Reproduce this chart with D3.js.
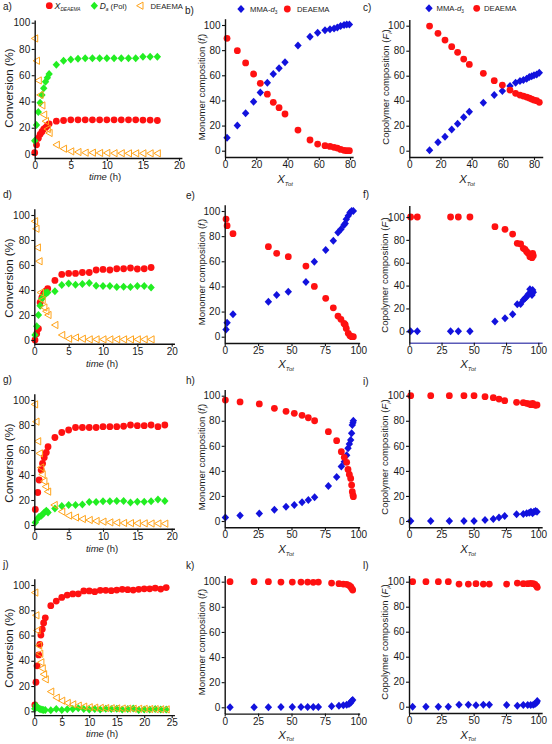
<!DOCTYPE html>
<html><head><meta charset="utf-8">
<script src="https://cdn.jsdelivr.net/npm/d3@7"></script>
<style>body{margin:0;background:#fff} text{font-family:Arial,"Liberation Sans",sans-serif;fill:#1a1a1a}</style>
</head><body><svg id="c" width="552" height="744"></svg>
<script>
// ---------- DATA ----------
// panel a
const aTime = [0,0.25,0.5,0.75,1,1.25,1.5,1.75,2,3,4,5,6,7,8,9,10,11,12,13,14,15,16,17];
const aXDEAEMA = [1,7,12,15,17,19,20,21.5,23,25,25.5,26,26,26,26,26,26,26,26,26,26,25.8,25.8,25.5];
const aDa = [10,22,32,39,45,50,55,58,61,68,71,72,72.5,73,73,73,73,73,73,73,73,74,74,74];
const aMono = [88,71,56,45,37,30,25,19,16,7,4,2,1.5,1,1,0.8,0.8,0.6,0.6,0.5,0.5,0.5,0.5,0.5];
// panel b
const bX = [1.3,7.9,13.2,18.3,22.6,27.1,30.9,34.6,38.4,46.7,54.4,59.3,64,67.2,69.8,71.9,74,76.2,77.9,79.6];
const bMMA = [10.3,20,29.7,39,46.4,54,61,65.5,70.3,83.6,90.7,93.9,95.8,96.6,97.3,98.1,99.2,100,100.3,100.3];
const bDEA = [89.4,79.6,69.8,61,53.6,45,38.5,34.2,29.2,16.4,8.5,5.3,4,3.4,2.7,2.1,1,0.3,0,0];
// panel c
const cX = [13,18.4,22.9,27.2,31,34.9,38.5,47.5,54.5,59.7,64.6,68.2,71,73.2,75.3,77,78.5,80,81.7,83.4];
const cDEA = [99.7,93.9,88.5,83.2,78.7,73.3,69,61.9,56,52.5,48.5,45.9,44.5,43.7,42.9,42.1,41.3,40.5,40,38.7];
const cMMA = [0.3,6.7,11.2,17,21.6,26.7,31.2,38.4,44.5,47.7,51.7,54.4,55.7,56.5,57.6,58.9,59.5,60.3,61,62.4];
// panel d
const dTime = [0.1,0.35,0.6,0.85,1.1,1.35,1.65,1.95,3,4,5,6,7,8,9,10,11,12,13,14,15,16,17];
const dXDEAEMA = [0,5,9,30,34,37,39,41,47.7,52.5,53.3,53.3,54,54,56,56.5,56,57,57,57.6,56.8,57,58];
const dDa = [4,11,20,27.5,33,35,38,38,39,44,45.3,44.3,44.8,45.6,43.5,43.2,43.2,42.4,42.7,42.4,43.2,43.2,42];
const dTimeM = [0.05,0.25,0.45,0.7,0.9,1.15,1.4,1.7,2,3,4,5,6,7,8,9,10,11,12,13,14,15,16,17];
const dMono = [95,89,74,63,38,32,26,23,20,12,4,1,2,1,0.5,0.5,0.5,0.5,0.5,0.5,0.5,0.5,0.5,0.5];
// panel e
const eX = [1,1.8,6.2,32.7,38.9,47.6,60.8,67.1,75.6,81.3,84.8,87,89.3,90.2,91,92.5,93.8,95,96.3];
const eDEA = [93.6,88.3,82,71.6,66.3,63.7,56.2,40,30.5,23,16.4,13.8,10.6,9.5,6.6,2.7,0.8,0,0];
const eMMA = [5.8,11.1,17.8,27.9,33.2,35.8,43.5,59.7,69,76.4,82.8,85.4,88.9,90,93.4,96.3,98.9,100,100];
// panel f
const fX = [1,6.2,32,38,47,66.4,74.2,80.1,83.7,86.3,88.4,89.7,91,92.2,93.5,94.3,95.1,95.6,96.1];
const fDEA = [100,100,100,100,100,91.5,89.2,85.1,77,76.4,72.6,71.7,69.7,68.2,65.3,66.8,64.4,68.2,66.2];
const fMMA = [0,0,0,0,0,8.5,11.4,14.9,23.6,23.9,27.4,28.9,30.3,32.4,36.7,33.2,31.8,36.2,34.1];
// panel g
const gTime = [0.15,0.5,0.7,1,1.2,1.45,1.75,2,3,4,5,6,7,8,9,10,11,12,13,14,15,16,17,18,19];
const gXDEAEMA = [12.5,26,36,44,49.3,54,58,62.7,70,74,76,78,78,78,78,78.7,78.7,78.7,79,80,79.5,79.5,80,78.7,80];
const gDa = [2,5.3,6.7,7.5,8.5,10,11.5,10,13.3,15.2,16,16,16.5,18.4,18.4,19,19,19.2,19.2,18,18.7,18.7,19,20.5,19.2];
const gTimeM = [0.05,0.25,0.5,0.75,0.95,1.15,1.4,1.65,1.95,2.9,4,5,6,7,8,9,10,11,12,13,14,15,16,17,18,19];
const gMono = [96.5,82.7,67,57.3,46,40.5,35,30.7,26.7,16,10.7,7.5,6,4.8,4,3.2,2.7,2.1,1.9,1.6,1.5,1.4,1.3,1.2,1.2,1.1];
// panel h
const hX = [0.5,11.5,25.9,37.2,45.9,52.1,57.9,62.6,67.3,77.6,83.8,87.3,89.5,91.3,92.3,93.3,94.3,95,95.5,96,96.3];
const hDEA = [96.5,95,93.4,89.9,87.5,85.9,84.3,82.4,80,71.3,64.1,55.3,50.8,46.8,41.2,37.2,34,28.7,23.4,20.7,19.4];
const hMMA = [2.7,4.3,5.9,9,11.4,12.8,14.9,16.8,18.9,27.9,35.1,43.4,47.3,52.4,58,61.4,64.6,70,76.6,78.5,80];
// panel i
const iX = [1.3,16.8,31.2,42.5,50.3,58.8,65.2,69.6,74,83.2,88.4,91,93,94.3,95.6,96.6,97.9,99];
const iDEA = [100,100,100,100,100,99.2,98.4,97.3,96,94.7,94.4,93.9,93.4,92.8,93.9,92.8,92.3,92.6];
const iMMA = [0,0,0,0,0,0.8,1.6,2.7,4,5.3,5.6,6.1,6.6,7.4,6.1,7.4,8,7.4];
// panel j
const jTime = [0.1,0.3,0.5,0.8,1,1.2,1.45,1.7,2,3,4,5,6,7,8,9,10,11,12,13,14,15,16,17,18,19,20,21,22,23,24];
const jXDEAEMA = [5,23,36,44.6,53,60.4,65,70,74,83.6,87.3,90.2,92,92.9,93,95.3,95.3,94.7,95.8,95.8,95.5,96,96.6,96.3,96,96.6,97,97,97.6,96.8,98];
const jDa = [2,4.5,3,2.4,1.8,1.6,1.2,1,1,0.8,1.8,1,1.6,1.8,2.4,1.8,1.5,1.8,1.5,2,1.8,2,1.5,1.8,2.2,1,1.5,1.5,1.8,1.5,1.5];
const jMono = [94,76,64,52,45.6,38.8,34,29.3,25.3,15.6,10.8,8.4,6.6,5.5,4.5,3.7,3.2,2.9,2.7,2.5,2.4,2.3,2.2,2.1,2,2,1.9,1.8,1.7,1.6,1.5];
// panel k
const kX = [4,22,32.7,42.1,50.6,57.1,62.1,66.3,70.1,80,85.5,88.8,91.3,93,94.3,95,95.8];
const kDEA = [100,100,100,99.7,99.7,99.7,99.7,99.5,99.7,98.9,98.4,98.1,97.9,97.1,96,94.7,93.4];
const kMMA = [0,0,0,0.3,0.3,0.3,0.3,0.3,0.3,0.8,1.3,1.6,2.1,2.7,3.7,5,5.8];
// panel l
const lX = [2.8,13.1,22.7,30.4,38.7,45.9,51.8,57.5,62.1,75.5,83.8,88.4,91.8,94.1,96.1,97.4,98.7,99.2];
const lDEA = [100,100,100,100,98.1,98.1,98.4,98.1,98.1,98.1,98.9,98.4,98.4,98.7,98.4,97.9,96.5,95.5];
const lMMA = [0,0,0,0,1.6,1.6,1.1,1.6,1.6,1.3,0.8,1.3,1.3,1.3,1.6,2.1,3.2,4.5];
// ticks
const timeTicks20 = [0,5,10,15,20];
const timeTicks25 = [0,5,10,15,20,25];
const xTot80 = [0,20,40,60,80];
const xTot100 = [0,25,50,75,100];
const yTicks = [0,20,40,60,80,100];

// ---------- STYLE ----------
const RED = '#ff1111', GREEN = '#22ee22', BLUE = '#1212dd', ORANGE = '#ffa31a';

const svg = d3.select('#c');

function rich(sel, parts, fs){
  let shifted = 0;
  parts.forEach(p => {
    const ts = sel.append('tspan').text(p.t);
    if (p.it) ts.attr('font-style','italic');
    if (p.big) ts.attr('font-size', fs*p.big);
    if (p.sub) { ts.attr('font-size', fs*0.62).attr('dy', fs*0.3 - shifted); shifted = fs*0.3; }
    else if (shifted) { ts.attr('dy', -shifted); shifted = 0; }
  });
}
function marker(g, type, color){
  if (type === 'circle') return g.append('circle').attr('r',3.4).attr('fill',color);
  if (type === 'diamond') return g.append('path').attr('d','M0,-4L3.7,0L0,4L-3.7,0Z').attr('fill',color);
  return g.append('path').attr('d','M-3.4,0L3,-3.6L3,3.6Z').attr('fill','none').attr('stroke',color).attr('stroke-width',1);
}

const T_CONV = [{t:'Conversion (%)'}];
const T_MONO = [{t:'Monomer composition ('},{t:'f',it:true},{t:'i',it:true,sub:true},{t:')'}];
const T_COPO = [{t:'Copolymer composition ('},{t:'F',it:true},{t:'i',it:true,sub:true},{t:')'}];
const T_TIME = [{t:'time',it:true},{t:' (h)'}];
const T_XTOT = [{t:'X',it:true,big:1.2},{t:'Tot',it:true,sub:true}];

const S3 = (t,x1,y1,y2,y3,tm) => [
  {x:t, y:y1, type:'circle', c:RED},
  {x:t, y:y2, type:'diamond', c:GREEN},
  {x:tm||t, y:y3, type:'tri', c:ORANGE}];
const S2 = (x,yd,ym) => [
  {x:x, y:ym, type:'diamond', c:BLUE},
  {x:x, y:yd, type:'circle', c:RED}];

const panels = [
 {lab:'a)', lp:[3,10], xd:[0,20.4], yd:[-3,102], xr:[0,34.7,20,179], yr:[0,154,100,22.7], xt:timeTicks20, yt:T_CONV, yfs:11.5, ytp:[9,88], xtt:T_TIME, xtp:[105,180], s:S3(aTime,0,aXDEAEMA,aDa,aMono)},
 {lab:'b)', lp:[185,13.5], xd:[0,82], yd:[-5,105], xr:[0,225,80,350], yr:[0,150.7,100,25], xt:xTot80, yt:T_MONO, yfs:9.5, ytp:[202,87], xtt:T_XTOT, xtp:[285,183], s:S2(bX,bDEA,bMMA)},
 {lab:'c)', lp:[363,10.5], xd:[0,85.6], yd:[-5,105], xr:[0,409.3,80,534], yr:[0,150.7,100,25.7], xt:xTot80, yt:T_COPO, yfs:9.5, ytp:[386,87], xtt:T_XTOT, xtp:[467,183], s:S2(cX,cDEA,cMMA)},
 {lab:'d)', lp:[3,197.5], xd:[0,20.4], yd:[-3,105], xr:[0,34.3,20,171.7], yr:[0,340,100,215], xt:timeTicks20, yt:T_CONV, yfs:11.5, ytp:[9,278], xtt:T_TIME, xtp:[102,366.5], s:S3(dTime,0,dXDEAEMA,dDa,dMono,dTimeM)},
 {lab:'e)', lp:[186,199], xd:[0,101], yd:[-5,105], xr:[0,224.7,100,358.3], yr:[0,336.7,100,211], xt:xTot100, yt:T_MONO, yfs:9.5, ytp:[202,272], xtt:T_XTOT, xtp:[286,368], s:S2(eX,eDEA,eMMA)},
 {lab:'f)', lp:[363,197.5], xd:[0,103], yd:[-10,110], xr:[0,409.3,100,538.3], yr:[0,331.3,100,217], xt:xTot100, yt:T_COPO, yfs:9.5, ytp:[385,275], xtt:T_XTOT, xtp:[468,368], xcol:'#5a5ab8', s:S2(fX,fDEA,fMMA)},
 {lab:'g)', lp:[3,382.5], xd:[0,20.4], yd:[-3,105], xr:[0,34.3,20,171.7], yr:[0,525,100,400], xt:timeTicks20, yt:T_CONV, yfs:11.5, ytp:[9,463], xtt:T_TIME, xtp:[102,551.5], s:S3(gTime,0,gXDEAEMA,gDa,gMono,gTimeM)},
 {lab:'h)', lp:[186,384], xd:[0,101], yd:[-5,105], xr:[0,224.7,100,358.3], yr:[0,521,100,395.7], xt:xTot100, yt:T_MONO, yfs:9.5, ytp:[202,457], xtt:T_XTOT, xtp:[286,553], s:S2(hX,hDEA,hMMA)},
 {lab:'i)', lp:[363,385], xd:[0,103], yd:[-5,105], xr:[0,409,100,538.3], yr:[0,521,100,395.7], xt:xTot100, yt:T_COPO, yfs:9.5, ytp:[385,457], xtt:T_XTOT, xtp:[468,553], s:S2(iX,iDEA,iMMA)},
 {lab:'j)', lp:[3,567.5], xd:[0,25.5], yd:[-3,105], xr:[0,34.3,25,171.7], yr:[0,711.3,100,585], xt:timeTicks25, yt:T_CONV, yfs:11.5, ytp:[9,648], xtt:T_TIME, xtp:[102,737], s:S3(jTime,0,jXDEAEMA,jDa,jMono)},
 {lab:'k)', lp:[186,569], xd:[0,101], yd:[-5,105], xr:[0,224.7,100,358.3], yr:[0,707.3,100,581.7], xt:xTot100, yt:T_MONO, yfs:9.5, ytp:[202,642], xtt:T_XTOT, xtp:[286,738.5], s:S2(kX,kDEA,kMMA)},
 {lab:'l)', lp:[363,569], xd:[0,103], yd:[-5,105], xr:[0,409,100,538.3], yr:[0,706.7,100,581.7], xt:xTot100, yt:T_COPO, yfs:9.5, ytp:[385,642], xtt:T_XTOT, xtp:[468,738.5], s:S2(lX,lDEA,lMMA)}
];

function lin(ref, dom){
  const k = (ref[3]-ref[1])/(ref[2]-ref[0]);
  return d3.scaleLinear().domain(dom).range(dom.map(v => ref[1] + (v-ref[0])*k));
}

panels.forEach(p => {
  const g = svg.append('g');
  const xs = lin(p.xr, p.xd), ys = lin(p.yr, p.yd);
  // points
  p.s.forEach(s => {
    s.x.forEach((xv,i) => {
      const m = g.append('g').attr('transform',`translate(${xs(xv)},${ys(s.y[i])})`);
      marker(m, s.type, s.c);
    });
  });
  // axes
  const ax = g.append('g').attr('transform',`translate(0,${ys(p.yd[0])})`)
    .call(d3.axisBottom(xs).tickValues(p.xt).tickSize(3).tickSizeOuter(0).tickPadding(1));
  const ay = g.append('g').attr('transform',`translate(${xs(p.xd[0])},0)`)
    .call(d3.axisLeft(ys).tickValues(yTicks).tickSize(3).tickSizeOuter(0).tickPadding(1.5));
  [ax, ay].forEach(a => {
    a.select('.domain').attr('stroke','#111').attr('stroke-width',1.4);
    a.selectAll('.tick line').attr('stroke','#111').attr('stroke-width',1.1);
    a.selectAll('.tick text').attr('font-size',10).attr('fill','#1a1a1a').attr('font-family','Arial,"Liberation Sans",sans-serif');
  });
  if (p.xcol) ax.select('.domain').attr('stroke', p.xcol);
  // titles
  const yt = g.append('text').attr('font-size',p.yfs).attr('text-anchor','middle')
    .attr('transform',`translate(${p.ytp[0]+p.yfs*0.36},${p.ytp[1]}) rotate(-90)`);
  rich(yt, p.yt, p.yfs);
  const xt = g.append('text').attr('font-size',9.5).attr('text-anchor','middle')
    .attr('x',p.xtp[0]).attr('y',p.xtp[1]);
  rich(xt, p.xtt, 9.5);
  g.append('text').attr('x',p.lp[0]).attr('y',p.lp[1]).attr('font-size',10).text(p.lab);
});

// legends
function legendItem(x, y, type, color, tx, parts){
  const m = svg.append('g').attr('transform',`translate(${x},${y})`);
  marker(m, type, color);
  const t = svg.append('text').attr('x',tx).attr('y',y+2.8).attr('font-size',7.7);
  rich(t, parts, 7.7);
}
const L_X = [{t:'X',it:true,big:1.15},{t:'DEAEMA',it:true,sub:true}];
const L_D = [{t:'D',it:true,big:1.1},{t:'a',it:true,sub:true},{t:' (Pol)'}];
const L_DEA = [{t:'DEAEMA'}];
const L_MMA = [{t:'MMA-'},{t:'d',it:true},{t:'3',sub:true}];
legendItem(49.3,5.7,'circle',RED,54.5,L_X);
legendItem(94.3,5.7,'diamond',GREEN,99.7,L_D);
legendItem(140,5.7,'tri',ORANGE,150.5,L_DEA);
legendItem(241,9,'diamond',BLUE,250,L_MMA);
legendItem(287.3,9,'circle',RED,297,L_DEA);
legendItem(429,8.3,'diamond',BLUE,436.5,L_MMA);
legendItem(476.7,8.3,'circle',RED,484,L_DEA);
</script>
</body></html>
